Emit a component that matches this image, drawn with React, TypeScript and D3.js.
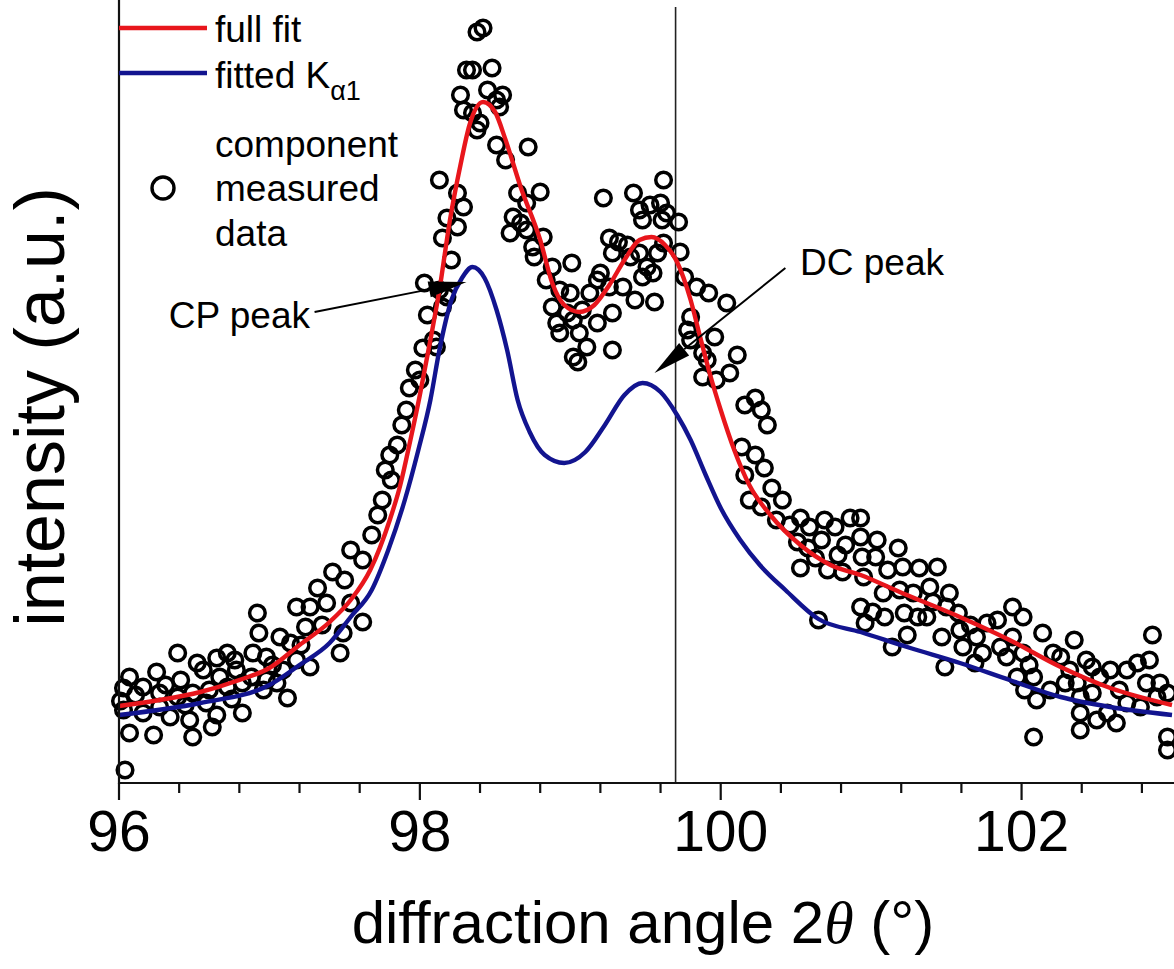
import React from "react";
import * as d3 from "d3";

// ---------- data (angle 2θ in degrees, intensity in a.u.) ----------
const measured: [number, number][] = [
  [96.01, 82], [96.03, 95], [96.03, 73], [96.04, 13], [96.07, 106], [96.07, 50], [96.11, 88], [96.16, 96], [96.16, 70], [96.23, 48],
  [96.25, 111], [96.27, 90], [96.27, 76], [96.31, 98], [96.34, 66], [96.39, 130], [96.39, 86], [96.41, 103], [96.44, 78], [96.47, 63],
  [96.49, 90], [96.49, 46], [96.52, 120], [96.56, 113], [96.58, 80], [96.6, 93], [96.62, 56], [96.65, 125], [96.65, 68],
  [96.67, 106], [96.72, 130], [96.72, 96], [96.75, 84], [96.77, 123], [96.78, 113], [96.82, 100], [96.82, 70], [96.88, 106],
  [96.89, 130], [96.92, 170], [96.93, 150], [96.96, 93], [96.98, 126], [96.98, 103], [97.02, 118], [97.05, 100], [97.07, 146],
  [97.09, 113], [97.12, 85], [97.14, 140], [97.18, 176], [97.18, 123], [97.21, 138], [97.24, 156], [97.27, 176], [97.27, 116],
  [97.32, 195], [97.35, 158], [97.38, 180], [97.42, 211], [97.47, 130], [97.49, 150], [97.5, 203], [97.54, 180], [97.54, 233],
  [97.62, 161], [97.62, 223], [97.68, 248], [97.72, 268], [97.75, 283], [97.77, 313], [97.8, 328], [97.81, 303],
  [97.85, 338], [97.88, 358], [97.91, 373], [97.93, 395], [97.97, 413], [98.0, 403], [98.02, 435], [98.03, 500],
  [98.05, 468], [98.09, 443], [98.11, 436], [98.13, 603], [98.13, 493], [98.15, 545], [98.15, 476], [98.18, 565],
  [98.18, 486], [98.21, 523], [98.25, 590], [98.25, 556], [98.27, 688], [98.29, 576], [98.29, 673], [98.31, 713],
  [98.35, 713], [98.35, 670], [98.38, 751], [98.38, 653], [98.4, 660], [98.42, 755], [98.45, 693], [98.48, 715],
  [98.51, 683], [98.51, 638], [98.53, 676], [98.55, 688], [98.57, 623], [98.6, 550], [98.62, 566], [98.65, 590],
  [98.67, 560], [98.71, 580], [98.71, 553], [98.72, 636], [98.75, 536], [98.76, 526], [98.8, 591], [98.82, 546],
  [98.84, 503], [98.88, 516], [98.88, 476], [98.91, 460], [98.93, 493], [98.93, 450], [98.98, 470], [99.0, 490],
  [99.01, 520], [99.02, 463], [99.02, 426], [99.05, 421], [99.06, 450], [99.08, 473], [99.11, 436], [99.13, 490],
  [99.18, 503], [99.18, 460], [99.2, 510], [99.22, 585], [99.26, 496], [99.26, 545], [99.28, 470], [99.28, 530],
  [99.28, 433], [99.32, 541], [99.35, 496], [99.38, 538], [99.4, 526], [99.42, 590], [99.43, 483], [99.46, 573],
  [99.46, 530], [99.48, 563], [99.48, 506], [99.51, 516], [99.53, 578], [99.55, 510], [99.56, 481], [99.58, 530],
  [99.6, 580], [99.61, 563], [99.62, 603], [99.62, 540], [99.64, 570], [99.72, 561], [99.73, 531], [99.76, 506],
  [99.78, 453], [99.8, 466], [99.8, 443], [99.84, 496], [99.88, 430], [99.88, 406], [99.91, 423], [99.92, 490],
  [99.96, 446], [99.97, 403], [100.04, 480], [100.06, 410], [100.11, 428], [100.14, 336], [100.16, 378], [100.16, 308],
  [100.19, 283], [100.23, 385], [100.23, 328], [100.27, 373], [100.27, 276], [100.29, 315], [100.31, 358], [100.34, 295],
  [100.37, 263], [100.41, 283], [100.46, 258], [100.51, 241], [100.53, 265], [100.53, 215], [100.58, 235], [100.59, 256],
  [100.63, 225], [100.65, 163], [100.67, 243], [100.69, 263], [100.71, 213], [100.76, 256], [100.78, 228], [100.81, 211],
  [100.83, 238], [100.86, 265], [100.93, 265], [100.93, 246], [100.93, 176], [100.94, 226], [100.95, 206], [100.96, 160],
  [101.01, 171], [101.03, 226], [101.04, 243], [101.08, 190], [101.09, 166], [101.11, 213], [101.14, 136], [101.18, 235],
  [101.19, 193], [101.21, 216], [101.22, 170], [101.24, 148], [101.28, 190], [101.31, 166], [101.32, 215], [101.37, 166],
  [101.39, 196], [101.41, 181], [101.44, 216], [101.47, 146], [101.49, 116], [101.5, 176], [101.52, 190], [101.58, 170],
  [101.59, 153], [101.61, 136], [101.66, 158], [101.69, 120], [101.7, 146], [101.74, 130], [101.77, 160], [101.84, 163], [101.86, 136], [101.9, 126],
  [101.94, 176], [101.94, 146], [101.97, 106], [102.01, 166], [102.01, 130], [102.02, 93], [102.05, 118], [102.08, 106], [102.08, 46],
  [102.1, 83], [102.14, 150], [102.19, 93], [102.21, 130], [102.26, 126], [102.29, 100], [102.32, 113], [102.35, 143], [102.37, 100],
  [102.39, 86], [102.39, 70], [102.39, 53], [102.43, 123], [102.47, 116], [102.47, 90], [102.5, 63], [102.52, 106],
  [102.57, 70], [102.59, 113], [102.63, 60], [102.65, 93], [102.7, 113], [102.7, 80], [102.77, 120], [102.79, 76],
  [102.83, 100], [102.85, 123], [102.87, 148], [102.9, 86], [102.92, 100], [102.97, 90], [102.97, 46], [102.97, 33],
];

const fullFit: [number, number][] = [
  [96.0, 77], [96.27, 83], [96.54, 91], [96.8, 103], [97.0, 115], [97.2, 138], [97.4, 161], [97.54, 183],
  [97.67, 213], [97.8, 263], [97.87, 298], [97.93, 338], [98.0, 388], [98.07, 443], [98.13, 493], [98.2, 563],
  [98.27, 618], [98.33, 658], [98.42, 681], [98.5, 671], [98.57, 643], [98.67, 596], [98.8, 543], [98.88, 500],
  [98.96, 478], [99.06, 471], [99.16, 478], [99.26, 498], [99.36, 523], [99.46, 543], [99.54, 546], [99.63, 538],
  [99.71, 521], [99.8, 483], [99.86, 448], [99.93, 408], [100.0, 373], [100.09, 333], [100.19, 298], [100.33, 268],
  [100.53, 238], [100.73, 218], [100.93, 208], [101.19, 191], [101.59, 166], [101.92, 143], [102.26, 116], [102.59, 95],
  [103.0, 78],
];

const kAlpha1: [number, number][] = [
  [96.0, 68], [96.54, 80], [97.0, 98], [97.2, 118], [97.4, 140], [97.54, 166], [97.68, 193], [97.79, 233],
  [97.9, 283], [97.99, 333], [98.07, 383], [98.13, 433], [98.21, 483], [98.28, 505], [98.35, 516], [98.43, 505],
  [98.51, 473], [98.58, 433], [98.65, 383], [98.73, 351], [98.83, 328], [98.96, 320], [99.1, 331], [99.23, 358],
  [99.36, 388], [99.48, 400], [99.6, 391], [99.71, 368], [99.8, 343], [99.9, 308], [100.0, 275], [100.13, 243],
  [100.26, 218], [100.43, 193], [100.65, 164], [100.93, 151], [101.26, 135], [101.59, 120], [101.92, 103], [102.26, 86],
  [102.59, 76], [103.0, 68],
];

const majorTicks = [96, 98, 100, 102];
const minorTicks = [96.4, 96.8, 97.2, 97.6, 98.4, 98.8, 99.2, 99.6, 100.4, 100.8, 101.2, 101.6, 102.4, 102.8];
const markerAngle = 99.7;

const cpArrow = { tail: [97.3, 471], tip: [98.31, 501] };
const dcArrow = { tail: [100.43, 515], tip: [99.56, 410] };

// ---------- layout ----------
const W = 1174;
const H = 969;
const left = 119;
const right = 1172;
const top = 0;
const bottom = 783;

const RED = "#e8161c";
const BLUE = "#12148f";
const FONT = "'Liberation Sans', Arial, Helvetica, sans-serif";

export default function App() {
  const x = d3.scaleLinear().domain([96, 103]).range([left, right]);
  const y = d3.scaleLinear().domain([0, 783]).range([bottom, top]);
  const line = d3
    .line<[number, number]>()
    .x((d) => x(d[0]))
    .y((d) => y(d[1]))
    .curve(d3.curveMonotoneX);

  const arrowHead = (tail: number[], tip: number[], len = 38, half = 8) => {
    const tx = x(tip[0]), ty = y(tip[1]);
    const sx = x(tail[0]), sy = y(tail[1]);
    const dx = tx - sx, dy = ty - sy;
    const L = Math.hypot(dx, dy);
    const ux = dx / L, uy = dy / L;
    const bx = tx - ux * len, by = ty - uy * len;
    const px = -uy, py = ux;
    return {
      points: `${tx},${ty} ${bx + px * half},${by + py * half} ${bx - px * half},${by - py * half}`,
      base: [bx, by],
    };
  };
  const cpHead = arrowHead(cpArrow.tail, cpArrow.tip);
  const dcHead = arrowHead(dcArrow.tail, dcArrow.tip);

  return (
    <svg
      width={W}
      height={H}
      style={{ position: "absolute", left: 0, top: 0, background: "#fff" }}
      fontFamily={FONT}
    >
      <rect x={0} y={0} width={W} height={H} fill="#fff" />

      {/* vertical marker line */}
      <line x1={x(markerAngle)} x2={x(markerAngle)} y1={7} y2={bottom} stroke="#222" strokeWidth={1.6} />

      {/* measured data */}
      <g fill="none" stroke="#000" strokeWidth={3.5}>
        {measured.map((d, i) => (
          <circle key={i} cx={x(d[0])} cy={y(d[1])} r={7.8} />
        ))}
      </g>

      {/* fitted curves */}
      <path d={line(kAlpha1) || ""} fill="none" stroke={BLUE} strokeWidth={4.4} />
      <path d={line(fullFit) || ""} fill="none" stroke={RED} strokeWidth={4.4} />

      {/* axes */}
      <line x1={left} x2={left} y1={0} y2={bottom + 1} stroke="#111" strokeWidth={2.2} />
      <line x1={left - 1} x2={right + 2} y1={bottom} y2={bottom} stroke="#111" strokeWidth={2.2} />
      {majorTicks.map((t) => (
        <g key={t}>
          <line x1={x(t)} x2={x(t)} y1={bottom} y2={bottom + 17} stroke="#111" strokeWidth={2.2} />
          <text x={x(t)} y={851} fontSize={57} textAnchor="middle" fill="#000">
            {t}
          </text>
        </g>
      ))}
      {minorTicks.map((t) => (
        <line key={t} x1={x(t)} x2={x(t)} y1={bottom} y2={bottom + 10} stroke="#111" strokeWidth={2.2} />
      ))}

      {/* axis titles */}
      <text x={643} y={943} fontSize={60} textAnchor="middle" fill="#000">
        diffraction angle 2
        <tspan fontFamily="'Liberation Serif', 'Times New Roman', serif" fontStyle="italic">θ</tspan> (°)
      </text>
      <text
        transform={`translate(64, 407) rotate(-90)`}
        fontSize={70}
        textAnchor="middle"
        fill="#000"
      >
        intensity (a.u.)
      </text>

      {/* legend */}
      <line x1={left} x2={207} y1={28} y2={28} stroke={RED} strokeWidth={4.4} />
      <text x={215} y={42} fontSize={37} fill="#000">full fit</text>
      <line x1={left} x2={207} y1={73} y2={73} stroke={BLUE} strokeWidth={4.4} />
      <text x={215} y={88} fontSize={37} fill="#000">
        fitted K
        <tspan fontSize={27} dy={12}>α1</tspan>
      </text>
      <circle cx={163} cy={188} r={11} fill="none" stroke="#000" strokeWidth={3.4} />
      <text x={215} y={157} fontSize={37} fill="#000">component</text>
      <text x={215} y={201} fontSize={37} fill="#000">measured</text>
      <text x={215} y={246} fontSize={37} fill="#000">data</text>

      {/* annotations */}
      <text x={310} y={328} fontSize={37} textAnchor="end" fill="#000">CP peak</text>
      <line
        x1={x(cpArrow.tail[0])}
        y1={y(cpArrow.tail[1])}
        x2={cpHead.base[0]}
        y2={cpHead.base[1]}
        stroke="#000"
        strokeWidth={2}
      />
      <polygon points={cpHead.points} fill="#000" />

      <text x={800} y={275} fontSize={37} fill="#000">DC peak</text>
      <line
        x1={x(dcArrow.tail[0])}
        y1={y(dcArrow.tail[1])}
        x2={dcHead.base[0]}
        y2={dcHead.base[1]}
        stroke="#000"
        strokeWidth={2}
      />
      <polygon points={dcHead.points} fill="#000" />
    </svg>
  );
}
